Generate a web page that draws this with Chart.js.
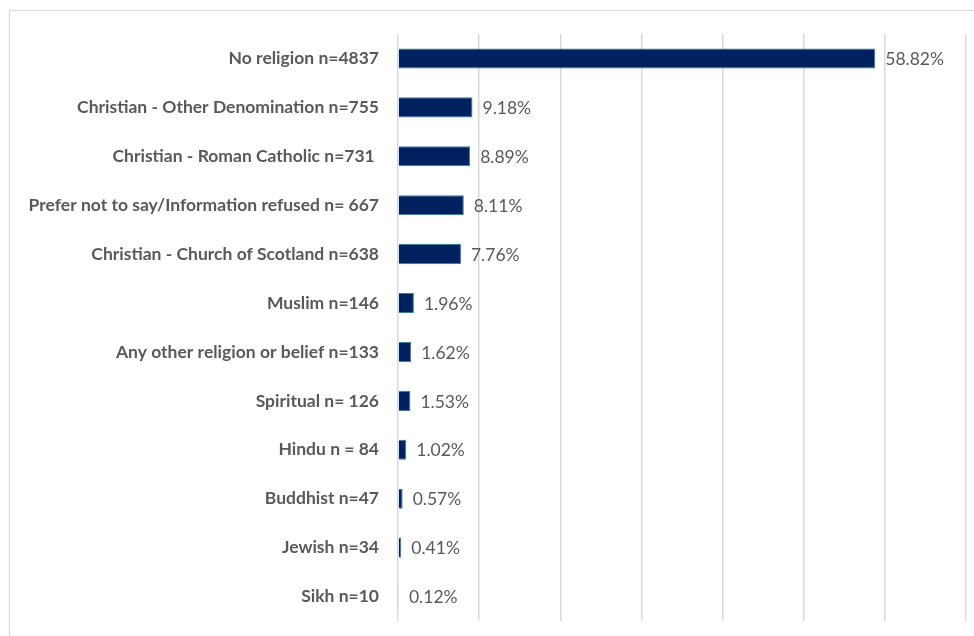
<!DOCTYPE html>
<html>
<head>
<meta charset="utf-8">
<script src="https://cdn.jsdelivr.net/npm/chart.js@4/dist/chart.umd.min.js"></script>
<style>
  html, body { margin: 0; padding: 0; background: #fff; }
  #wrap { position: relative; width: 974px; height: 636px; overflow: hidden; }
  #frame { position: absolute; left: 9px; top: 10px; width: 1000px; height: 700px; border: 1px solid #d9d9d9; box-sizing: border-box; }
  canvas { position: absolute; left: 0; top: 0; }
</style>
</head>
<body>
<div id="wrap">
  <div id="frame"></div>
  <canvas id="myChart" width="974" height="636"></canvas>
</div>
<script>
var labels = [
  "No religion n=4837",
  "Christian - Other Denomination n=755",
  "Christian - Roman Catholic n=731 ",
  "Prefer not to say/Information refused n= 667",
  "Christian - Church of Scotland n=638",
  "Muslim n=146",
  "Any other religion or belief n=133",
  "Spiritual n= 126",
  "Hindu n = 84",
  "Buddhist n=47",
  "Jewish n=34",
  "Sikh n=10"
]
var percents = [58.82, 9.18, 8.89, 8.11, 7.76, 1.96, 1.62, 1.53, 1.02, 0.57, 0.41, 0.12]
var xTicks = [0, 10, 20, 30, 40, 50, 60, 70]

var textGray = "#595959"

// percentage written just past the end of each bar
var valueLabels = {
  id: "valueLabels",
  afterDatasetsDraw: function(chart){
    var ctx = chart.ctx
    var meta = chart.getDatasetMeta(0)
    ctx.save()
    ctx.font = "17.5px Lato"
    ctx.fillStyle = textGray
    ctx.textAlign = "left"
    ctx.textBaseline = "middle"
    for (var i=0; i<meta.data.length; i++){
      var bar = meta.data[i]
      ctx.fillText(percents[i].toFixed(2) + "%", bar.x + 10, bar.y + 1)
    }
    ctx.restore()
  }
}

new Chart("myChart", {
  type: "bar",
  data: {
    labels: labels,
    datasets: [{
      data: percents,
      backgroundColor: "#002060",
      borderColor: "#3a7c8e",
      borderWidth: 1,
      barPercentage: 0.41,
      categoryPercentage: 1
    }]
  },
  options: {
    indexAxis: "y",
    responsive: false,
    animation: false,
    layout: { padding: { left: 0, right: 8, top: 34, bottom: 15 } },
    plugins: {
      legend: { display: false },
      tooltip: { enabled: false }
    },
    scales: {
      x: {
        min: xTicks[0],
        max: xTicks[xTicks.length - 1],
        afterBuildTicks: function(axis){
          axis.ticks = xTicks.map(function(v){ return { value: v } })
        },
        afterFit: function(axis){ axis.height = 0 },
        ticks: { display: false },
        grid: { color: "#d9d9d9", lineWidth: 1.5, drawTicks: false },
        border: { display: false }
      },
      y: {
        afterFit: function(axis){
          axis.width = 398
          axis.paddingTop = 0
          axis.paddingBottom = 0
        },
        ticks: {
          color: textGray,
          padding: 11,
          font: { family: "Lato", size: 17.5, weight: "bold" }
        },
        grid: { display: false },
        border: { display: false }
      }
    }
  },
  plugins: [valueLabels]
})
</script>
</body>
</html>
